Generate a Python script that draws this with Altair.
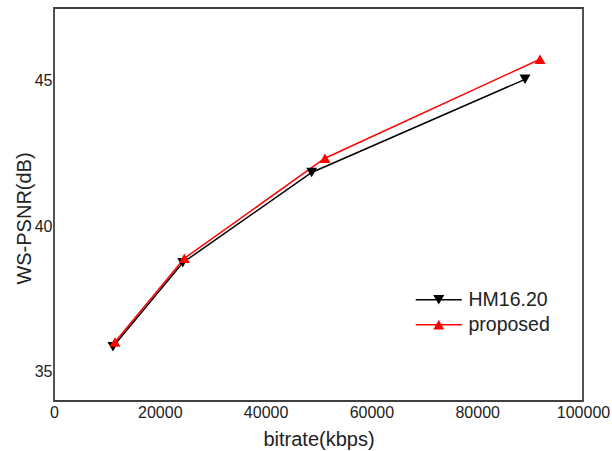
import altair as alt
import pandas as pd

series_names = ["HM16.20", "proposed"]
hm_bitrate = [11150, 24330, 48710, 89040]
hm_psnr = [35.86, 38.75, 41.85, 45.05]
pr_bitrate = [11530, 24640, 51230, 91870]
pr_psnr = [36.03, 38.90, 42.34, 45.74]

x_ticks = [0, 20000, 40000, 60000, 80000, 100000]
y_ticks = [35, 40, 45]

rows = []
for b, p in zip(hm_bitrate, hm_psnr):
    rows.append({"series": series_names[0], "bitrate": b, "psnr": p})
for b, p in zip(pr_bitrate, pr_psnr):
    rows.append({"series": series_names[1], "bitrate": b, "psnr": p})
df = pd.DataFrame(rows)

FONT = "Liberation Sans"
colors = ["#000000", "#ff0000"]
markers = ["triangle-down", "triangle-up"]

# legend glyphs: a thin bar (the line) plus a triangle, all filled
down_path = "M-4.6,-0.15H4.6V0.15H-4.6Z M-1.1,-0.95L1.1,-0.95L0,0.95Z"
up_path = "M-4.6,-0.15H4.6V0.15H-4.6Z M1.1,0.95L-1.1,0.95L0,-0.95Z"

x_enc = alt.X(
    "bitrate:Q",
    scale=alt.Scale(domain=[0, 100000], nice=False, zero=False),
    axis=alt.Axis(
        title="bitrate(kbps)", values=x_ticks, format="d", ticks=False,
        domain=False, grid=False, labelPadding=3, labelFontSize=16,
        labelFont=FONT, labelColor="#222222", titleFont=FONT, titleFontSize=20,
        titleFontWeight="normal", titleColor="#222222", titleY=38,
        titleBaseline="middle", labelFlush=False,
    ),
)
y_enc = alt.Y(
    "psnr:Q",
    scale=alt.Scale(domain=[34, 47.5], nice=False, zero=False),
    axis=alt.Axis(
        title="WS-PSNR(dB)", values=y_ticks, ticks=False, domain=False,
        grid=False, labelPadding=2, labelFontSize=16, labelFont=FONT,
        labelColor="#222222", titleFont=FONT, titleFontSize=20,
        titleFontWeight="normal", titleColor="#222222", titleX=-30,
        titleY=210, titleBaseline="middle", titleAlign="center",
    ),
)

color_scale = alt.Scale(domain=series_names, range=colors)
legend = alt.Legend(
    title=None, orient="none", legendX=375, legendY=282, padding=0,
    symbolSize=100, symbolStrokeWidth=0, labelOffset=20,
    labelFontSize=19.5, labelFont=FONT, labelColor="#222222",
    rowPadding=4, symbolOpacity=1,
)
color_enc = alt.Color("series:N", scale=color_scale, legend=legend)

# legend-only layer: no rows drawn, its scales give the legend glyphs
legend_layer = alt.Chart(df).transform_filter("datum.psnr < 0").mark_point(
    filled=True, size=100
).encode(
    x=x_enc, y=y_enc, color=color_enc,
    shape=alt.Shape("series:N", scale=alt.Scale(domain=series_names, range=[down_path, up_path]), legend=legend),
)
lines = alt.Chart(df).mark_line(strokeWidth=1.5).encode(
    x=x_enc, y=y_enc, color=color_enc, detail="series:N",
)
point_layers = [
    alt.Chart(df).transform_filter(alt.datum.series == name).mark_point(
        filled=True, size=120, opacity=1, shape=shp
    ).encode(x=x_enc, y=y_enc, color=color_enc)
    for name, shp in zip(series_names, markers)
]

chart = alt.layer(legend_layer, lines, *point_layers).properties(
    width=529, height=393,
    autosize=alt.AutoSizeParams(type="none"),
    padding={"left": 54, "top": 8, "right": 29, "bottom": 50},
    background="white",
).configure_view(stroke="#404040", strokeWidth=1.8)

chart.save("out.html", embed_options={"renderer": "svg", "actions": False})
